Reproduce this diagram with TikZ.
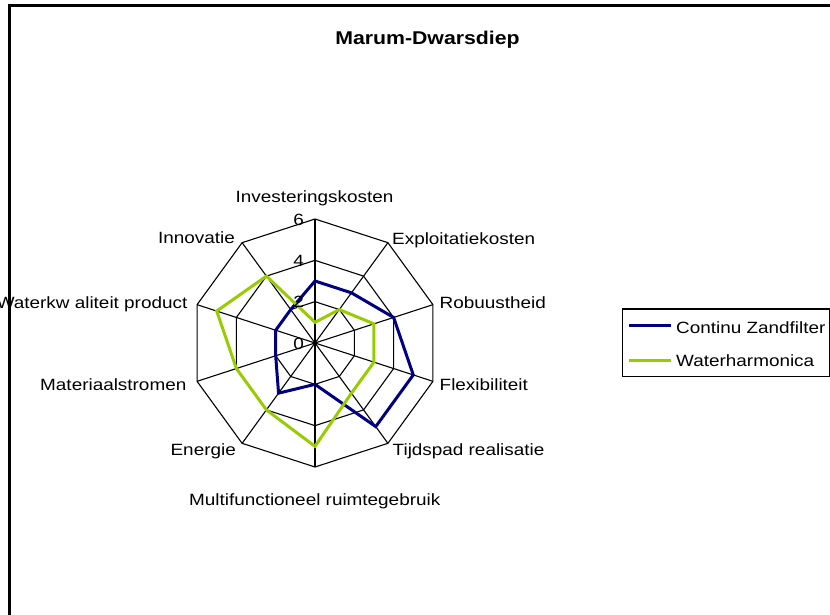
\documentclass[tikz,border=0pt]{standalone}
\usepackage{fontspec}
\setmainfont{Liberation Sans}[FakeStretch=1.16]
\newfontfamily\titlefont{Liberation Sans}[FakeStretch=1.15]
\definecolor{zandblue}{RGB}{0,0,128}
\definecolor{harmgreen}{RGB}{153,204,0}
\begin{document}
\begin{tikzpicture}[x=1pt,y=-1pt,
  lbl/.style={font=\fontsize{16.3}{19}\selectfont, inner sep=0pt},
  gridline/.style={black, line width=1.1pt},
  series/.style={line width=3pt, line join=miter}]
\useasboundingbox (0,0) rectangle (830,615);
% chart area border (left and top edges)
\draw[line width=2.3pt] (9.5,640) -- (9.5,5.5) -- (850,5.5);
% title
\node[font=\titlefont\bfseries\fontsize{18.5}{22}\selectfont, anchor=base, inner sep=0pt] (title) at (427.5,45) {Marum-Dwarsdiep};

% radar grid and series
\begin{scope}[shift={(315,343)}, x=20.667pt, y=20.667pt]
  \coordinate (ctr) at (0,0);
  \foreach \r in {2,4,6}
    \draw[gridline] (90:\r) \foreach \k in {1,...,9} { -- ({90-36*\k}:\r) } -- cycle;
  \foreach \k in {0,...,9}
    \draw[gridline] (ctr) -- ({90-36*\k}:6);
  \draw[series, zandblue] (90:3) -- (54:3) -- (18:4) -- (-18:5) -- (-54:5)
    -- (-90:2) -- (-126:3) -- (-162:2) -- (-198:2) -- (-234:2) -- cycle;
  \draw[series, harmgreen] (90:1) -- (54:2) -- (18:3) -- (-18:3) -- (-54:3)
    -- (-90:5) -- (-126:4) -- (-162:4) -- (-198:5) -- (-234:4) -- cycle;
\end{scope}

% axis values
\node[lbl, anchor=base east] (t0) at (304,349) {0};
\node[lbl, anchor=base east] (t2) at (304,307.7) {2};
\node[lbl, anchor=base east] (t4) at (304,266.3) {4};
\node[lbl, anchor=base east] (t6) at (304,225) {6};

% category labels
\node[lbl, anchor=base] (c0) at (314.5,202.3) {Investeringskosten};
\node[lbl, anchor=base west] (c1) at (392,244) {Exploitatiekosten};
\node[lbl, anchor=base west] (c2) at (439.5,308.3) {Robuustheid};
\node[lbl, anchor=base west] (c3) at (439.5,390) {Flexibiliteit};
\node[lbl, anchor=base west] (c4) at (392.5,455) {Tijdspad realisatie};
\node[lbl, anchor=base] (c5) at (314.7,505) {Multifunctioneel ruimtegebruik};
\node[lbl, anchor=base east] (c6) at (236,455) {Energie};
\node[lbl, anchor=base east] (c7) at (186.5,390) {Materiaalstromen};
\node[lbl, anchor=base east] (c8) at (187.5,308.3) {Waterkw aliteit product};
\node[lbl, anchor=base east] (c9) at (235,243.3) {Innovatie};

% legend
\node[draw, line width=1.2pt, minimum width=207.3pt, minimum height=67.7pt,
      inner sep=0pt, anchor=north west] (legend) at (621.7,308.3) {};
\coordinate (lzA) at (629,325.7);
\coordinate (lzB) at (671,325.7);
\coordinate (lhA) at (629,360);
\coordinate (lhB) at (671,360);
\draw[series, zandblue] (lzA) -- (lzB);
\draw[series, harmgreen] (lhA) -- (lhB);
\node[lbl, anchor=base west] (lz) at (676,333) {Continu Zandfilter};
\node[lbl, anchor=base west] (lh) at (676,366.7) {Waterharmonica};
\end{tikzpicture}
\end{document}
